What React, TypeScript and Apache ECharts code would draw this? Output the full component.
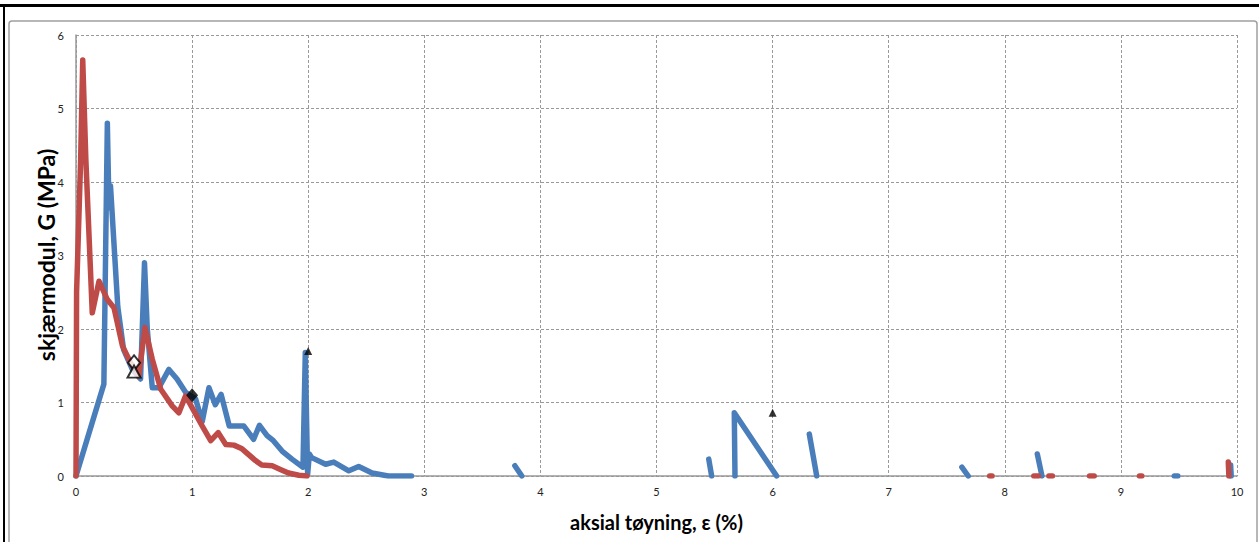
import React, { useEffect, useRef } from "react";
import * as echarts from "echarts";

const xTicks = [0, 1, 2, 3, 4, 5, 6, 7, 8, 9, 10];
const yTicks = [0, 1, 2, 3, 4, 5, 6];

const blueSegments: number[][][] = [
  [[0, 0], [0.24, 1.25], [0.27, 4.8], [0.284, 3.65], [0.297, 3.95], [0.36, 2.3], [0.41, 1.72], [0.485, 1.45], [0.556, 1.32], [0.59, 2.9], [0.614, 2.0], [0.657, 1.2], [0.714, 1.2], [0.8, 1.45], [0.87, 1.32], [0.944, 1.14], [1.03, 1.05], [1.087, 0.74], [1.145, 1.2], [1.2, 0.97], [1.25, 1.11], [1.32, 0.68], [1.446, 0.68], [1.53, 0.5], [1.58, 0.69], [1.646, 0.55], [1.7, 0.48], [1.775, 0.34], [1.86, 0.23], [1.955, 0.12], [1.975, 1.68], [1.995, 0.02], [2.01, 0.3], [2.03, 0.25], [2.15, 0.16], [2.22, 0.19], [2.35, 0.07], [2.435, 0.13], [2.55, 0.04], [2.69, 0.0], [2.89, 0]],
  [[3.78, 0.14], [3.84, 0]],
  [[5.45, 0.23], [5.475, 0]],
  [[5.676, 0], [5.67, 0.86], [6.035, 0]],
  [[6.316, 0.57], [6.38, 0]],
  [[7.63, 0.12], [7.685, 0]],
  [[8.28, 0.3], [8.32, 0]],
  [[9.46, 0], [9.49, 0]],
  [[9.945, 0.15], [9.95, 0]],
];

const redSegments: number[][][] = [
  [[0, 0], [0.005, 2.5], [0.04, 4.3], [0.058, 5.66], [0.085, 4.3], [0.14, 2.22], [0.198, 2.65], [0.27, 2.4], [0.327, 2.29], [0.4, 1.77], [0.47, 1.54], [0.54, 1.36], [0.594, 2.02], [0.657, 1.59], [0.73, 1.18], [0.83, 0.95], [0.886, 0.86], [0.944, 1.09], [1.087, 0.68], [1.16, 0.48], [1.225, 0.59], [1.29, 0.43], [1.36, 0.42], [1.43, 0.37], [1.546, 0.21], [1.6, 0.15], [1.69, 0.14], [1.76, 0.09], [1.83, 0.04], [1.92, 0.01], [1.99, 0]],
  [[7.87, 0], [7.89, 0]],
  [[8.25, 0], [8.29, 0]],
  [[8.38, 0], [8.41, 0]],
  [[8.73, 0], [8.77, 0]],
  [[9.16, 0], [9.18, 0]],
  [[9.925, 0.19], [9.93, 0]],
];

const openDiamond = [[0.5, 1.54]];
const openTriangle = [[0.5, 1.42]];
const filledDiamond = [[1.0, 1.1]];
const filledTriangles = [[2.0, 1.7], [6.0, 0.86]];

const xTitle = "aksial tøyning, ε (%)";
const yTitle = "skjærmodul, G (MPa)";

const BLUE = "#4A7EBB";
const RED = "#BE4B48";

export default function App() {
  const ref = useRef<HTMLDivElement>(null);
  useEffect(() => {
    document.body.style.margin = "0";
    const chart = echarts.init(ref.current!, null, { renderer: "svg" });
    const lineSeries = (segs: number[][][], color: string) =>
      segs.map((d) => ({
        type: "line",
        data: d,
        showSymbol: false,
        symbol: "none",
        clip: true,
        lineStyle: { color, width: 5.5, cap: "round", join: "round" },
        z: color === RED ? 3 : 2,
      }));
    chart.setOption({
      animation: false,
      backgroundColor: "#fff",
      grid: { left: 76, right: 22, top: 35, bottom: 66 },
      xAxis: {
        type: "value",
        min: 0,
        max: 10,
        interval: 1,
        name: xTitle,
        nameLocation: "middle",
        nameGap: 36,
        nameTextStyle: { fontFamily: "Lato", fontWeight: "bold", fontSize: 20, color: "#000" },
        axisLine: { lineStyle: { color: "#999", width: 1.5 } },
        axisTick: { show: false },
        axisLabel: { fontFamily: "Lato", fontSize: 11, color: "#222", margin: 10, formatter: (v: number) => (xTicks.includes(v) ? String(v) : "") },
        splitLine: { show: true, lineStyle: { color: "#999", type: [3, 2], width: 1 } },
      },
      yAxis: {
        type: "value",
        min: 0,
        max: 6,
        interval: 1,
        axisLine: { show: true, lineStyle: { color: "#999", width: 1.5 } },
        axisTick: { show: false },
        axisLabel: { fontFamily: "Lato", fontSize: 11, color: "#222", margin: 12, formatter: (v: number) => (yTicks.includes(v) ? String(v) : "") },
        splitLine: { show: true, lineStyle: { color: "#999", type: [3, 2], width: 1 } },
      },
      graphic: [
        { type: "rect", shape: { x: 9, y: 21, width: 1248, height: 540, r: 3 }, style: { fill: "none", stroke: "#a0a0a0", lineWidth: 1.5 }, z: 0 },
        { type: "rect", shape: { x: 0, y: 4, width: 1259, height: 3 }, style: { fill: "#000" } },
        { type: "rect", shape: { x: 3, y: 5, width: 2, height: 537 }, style: { fill: "#000" } },
        {
          type: "text",
          x: 46,
          y: 255,
          rotation: Math.PI / 2,
          style: { text: yTitle, fontFamily: "Lato", fontWeight: "bold", fontSize: 23, fill: "#000", align: "center", verticalAlign: "middle" },
        },
      ],
      series: [
        ...lineSeries(blueSegments, BLUE),
        ...lineSeries(redSegments, RED),
        { type: "scatter", data: openDiamond, symbol: "diamond", symbolSize: [12, 15], itemStyle: { color: "#fff", borderColor: "#000", borderWidth: 2 }, z: 5 },
        { type: "scatter", data: openTriangle, symbol: "triangle", symbolSize: [13, 12], itemStyle: { color: "#fff", borderColor: "#000", borderWidth: 2 }, z: 5 },
        { type: "scatter", data: filledDiamond, symbol: "diamond", symbolSize: [12, 14], itemStyle: { color: "#000" }, z: 5 },
        { type: "scatter", data: filledTriangles, symbol: "triangle", symbolSize: [8, 8], itemStyle: { color: "#000" }, z: 5 },
      ],
    });
    return () => chart.dispose();
  }, []);
  return <div ref={ref} style={{ width: 1259, height: 542 }} />;
}
